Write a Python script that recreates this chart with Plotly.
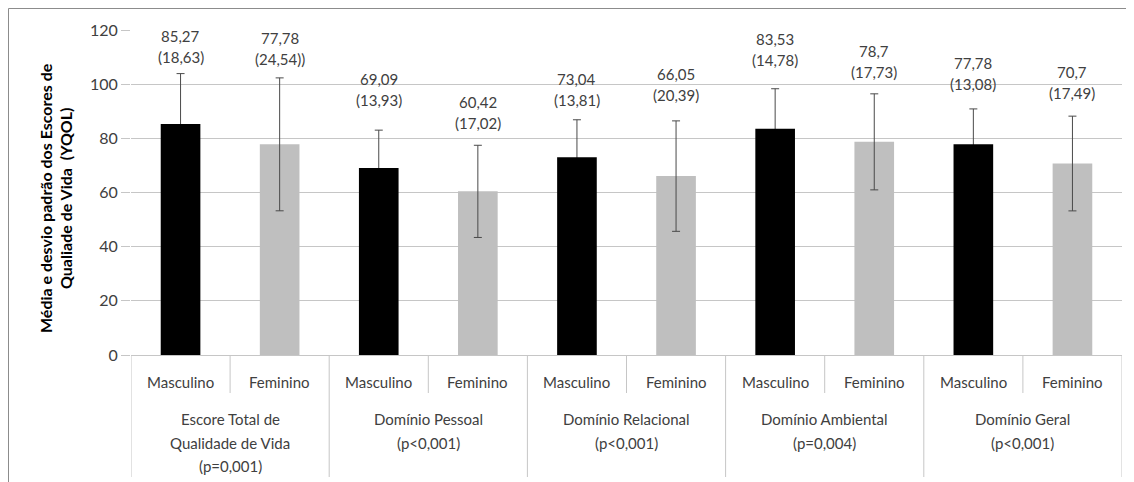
import plotly.graph_objects as go

# ---- data ----
sexes = ["Masculino", "Feminino"]
groups = [
    ["Escore Total de", "Qualidade de Vida", "(p=0,001)"],
    ["Domínio Pessoal", "(p<0,001)"],
    ["Domínio Relacional", "(p<0,001)"],
    ["Domínio Ambiental", "(p=0,004)"],
    ["Domínio Geral", "(p<0,001)"],
]
means = [85.27, 77.78, 69.09, 60.42, 73.04, 66.05, 83.53, 78.7, 77.78, 70.7]
sds = [18.63, 24.54, 13.93, 17.02, 13.81, 20.39, 14.78, 17.73, 13.08, 17.49]
mean_labels = ["85,27", "77,78", "69,09", "60,42", "73,04", "66,05", "83,53", "78,7", "77,78", "70,7"]
sd_labels = ["(18,63)", "(24,54))", "(13,93)", "(17,02)", "(13,81)", "(20,39)", "(14,78)", "(17,73)", "(13,08)", "(17,49)"]
y_ticks = [0, 20, 40, 60, 80, 100, 120]
y_title_lines = ["Média e desvio padrão dos Escores de", "Qualiade de Vida  (YQOL)"]

# ---- styling ----
OFF = 8  # page body margin
W, H = 1134 - OFF, 482 - OFF
L, R, T, B = 131 - OFF, 1134 - 1122, 30 - OFF, 482 - 355
PW, PH = W - L - R, H - T - B
FONT = "Lato"
GRID = "#C6C6C6"
TXT = "#404040"
ERR = "#4A4A4A"
sex_colors = ["#000000", "#BFBFBF"]
label_pad = [9.7, 10.5, 14.9, 11.8, 11.0, 13.3, 14.3, 11.6, 13.0, 12.1]  # label offset above error bar (axis units)


def px_x(p):  # screen px -> paper x
    return (p - OFF - L) / PW


def px_y(p):  # screen px -> paper y
    return (H - B - (p - OFF)) / PH


xs = list(range(len(means)))
x_m, x_f = xs[0::2], xs[1::2]
m_m, m_f = means[0::2], means[1::2]
s_m, s_f = sds[0::2], sds[1::2]

fig = go.Figure()
# Masculino error bars first (hidden below by the black bars drawn afterwards)
fig.add_trace(go.Bar(
    x=x_m, y=m_m, width=0.4, marker=dict(color="rgba(0,0,0,0)", line=dict(width=0)),
    error_y=dict(type="data", array=s_m, visible=True, color=ERR, thickness=1, width=4),
    showlegend=False, hoverinfo="skip",
))
fig.add_trace(go.Bar(
    x=x_m, y=m_m, width=0.4, marker=dict(color=sex_colors[0], line=dict(width=0)),
    showlegend=False, hoverinfo="skip",
))
fig.add_trace(go.Bar(
    x=x_f, y=m_f, width=0.4, marker=dict(color=sex_colors[1], line=dict(width=0)),
    error_y=dict(type="data", array=s_f, visible=True, color=ERR, thickness=1, width=4),
    showlegend=False, hoverinfo="skip",
))

ann = []
shapes = []
# data labels (two lines each)
for i, (m, s) in enumerate(zip(means, sds)):
    yc = m + s + label_pad[i]
    ann.append(dict(x=i, y=yc, xref="x", yref="y", text=mean_labels[i], showarrow=False,
                    yanchor="middle", yshift=11, font=dict(family=FONT, size=15, color=TXT)))
    ann.append(dict(x=i, y=yc, xref="x", yref="y", text=sd_labels[i], showarrow=False,
                    yanchor="middle", yshift=-10, font=dict(family=FONT, size=15, color=TXT)))

# sex labels
for i in xs:
    ann.append(dict(x=i, y=0, xref="x", yref="paper", text=sexes[i % 2], showarrow=False,
                    yanchor="middle", yshift=-27, font=dict(family=FONT, size=15, color=TXT)))

# group labels, one annotation per line
for g, lines in enumerate(groups):
    for k, line in enumerate(lines):
        ann.append(dict(x=2 * g + 0.5, y=0, xref="x", yref="paper", text=line, showarrow=False,
                        yanchor="middle", yshift=-(64 + 23.5 * k),
                        font=dict(family=FONT, size=15, color=TXT)))

# dividers
for g in range(len(groups)):
    shapes.append(dict(type="line", xref="x", yref="paper", x0=2 * g + 0.5, x1=2 * g + 0.5,
                       y0=0, y1=px_y(393), line=dict(color=GRID, width=1)))
for g in range(len(groups) + 1):
    shapes.append(dict(type="line", xref="x", yref="paper", x0=2 * g - 0.5, x1=2 * g - 0.5,
                       y0=0, y1=px_y(477), line=dict(color=GRID, width=1)))

# outer chart border (top and left visible)
shapes.append(dict(type="line", xref="paper", yref="paper", x0=px_x(8.5), x1=px_x(1140),
                   y0=px_y(8.5), y1=px_y(8.5), line=dict(color="#8C8C8C", width=1)))
shapes.append(dict(type="line", xref="paper", yref="paper", x0=px_x(8.5), x1=px_x(8.5),
                   y0=px_y(8.5), y1=px_y(490), line=dict(color="#8C8C8C", width=1)))

# y axis title, one annotation per line
for k, line in enumerate(y_title_lines):
    ann.append(dict(x=px_x(45 + 20 * k), y=px_y(198), xref="paper", yref="paper", text=line,
                    showarrow=False, textangle=-90, xanchor="center", yanchor="middle",
                    font=dict(family=FONT, size=16, color="#000000", weight="bold")))

fig.update_layout(
    width=W, height=H,
    margin=dict(l=L, r=R, t=T, b=B, pad=0),
    paper_bgcolor="white", plot_bgcolor="white",
    barmode="overlay",
    annotations=ann, shapes=shapes,
    xaxis=dict(range=[-0.5, len(means) - 0.5], showticklabels=False, showgrid=False, zeroline=False,
               showline=True, linecolor=GRID, linewidth=1, ticks=""),
    yaxis=dict(range=[0, 120], tickvals=y_ticks, showgrid=True, gridcolor=GRID, gridwidth=1,
               zeroline=False, showline=False, ticks="outside", ticklen=9, tickcolor=GRID,
               tickfont=dict(family=FONT, size=16, color=TXT)),
)

fig.write_html("out.html")
